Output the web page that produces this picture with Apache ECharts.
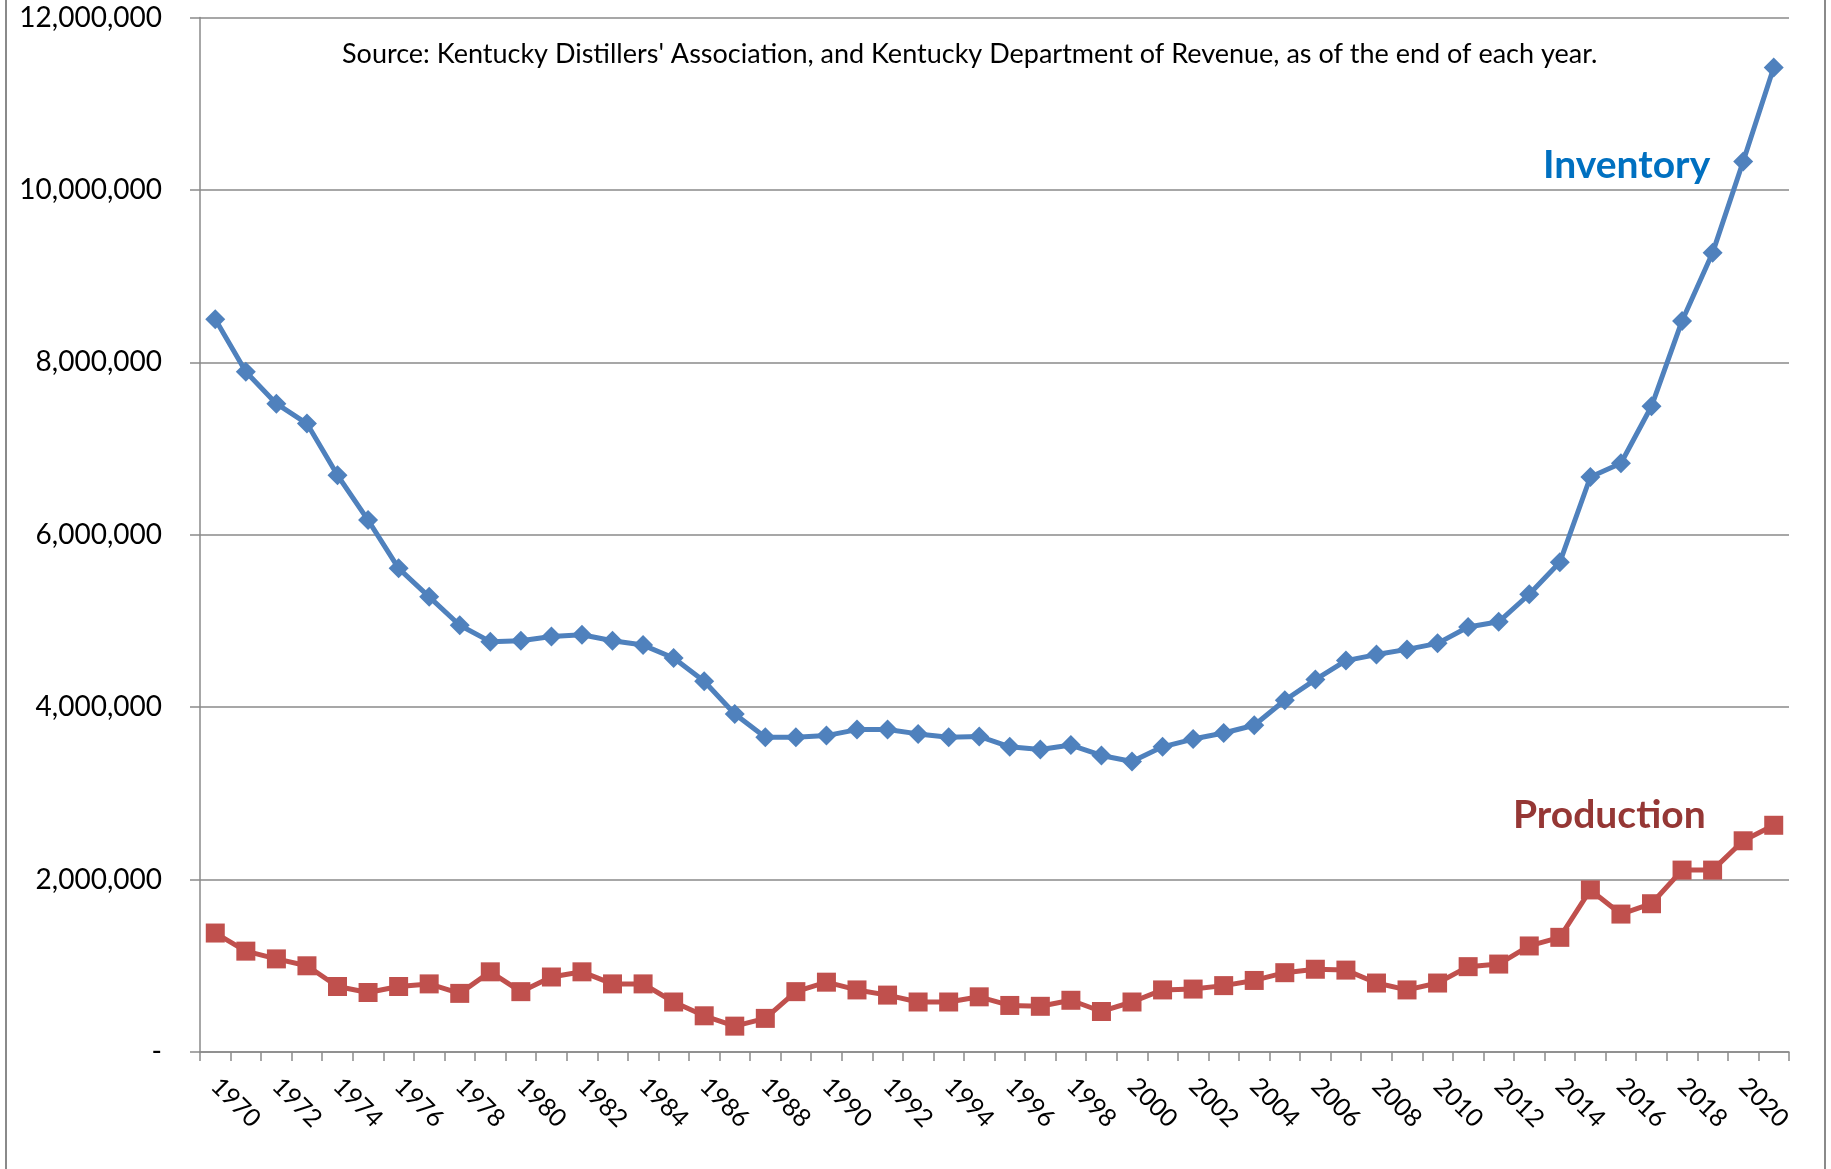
<!DOCTYPE html>
<html>
<head>
<meta charset="utf-8">
<script src="https://cdn.jsdelivr.net/npm/echarts@6/dist/echarts.min.js"></script>
<style>
  html, body { margin: 0; padding: 0; background: #fff; }
  #chart { width: 1831px; height: 1169px; }
</style>
</head>
<body>
<div id="chart"></div>
<script>
// years on the category axis
const years = [
  '1970', '1971', '1972', '1973', '1974', '1975', '1976', '1977', '1978', '1979',
  '1980', '1981', '1982', '1983', '1984', '1985', '1986', '1987', '1988', '1989',
  '1990', '1991', '1992', '1993', '1994', '1995', '1996', '1997', '1998', '1999',
  '2000', '2001', '2002', '2003', '2004', '2005', '2006', '2007', '2008', '2009',
  '2010', '2011', '2012', '2013', '2014', '2015', '2016', '2017', '2018', '2019',
  '2020', '2021'
];

// barrels in inventory, end of year
const inventory = [
  8500000, 7890000, 7520000, 7290000, 6690000, 6170000, 5610000, 5280000, 4950000, 4760000,
  4770000, 4820000, 4840000, 4770000, 4720000, 4570000, 4300000, 3920000, 3650000, 3650000,
  3670000, 3740000, 3740000, 3690000, 3650000, 3660000, 3540000, 3510000, 3560000, 3440000,
  3370000, 3540000, 3630000, 3700000, 3790000, 4080000, 4320000, 4540000, 4610000, 4670000,
  4740000, 4930000, 4990000, 5310000, 5680000, 6670000, 6830000, 7490000, 8480000, 9270000,
  10330000, 11420000
];

// barrels produced per year
const production = [
  1380000, 1170000, 1080000, 1000000, 760000, 690000, 760000, 790000, 680000, 930000,
  700000, 870000, 930000, 790000, 790000, 580000, 420000, 300000, 390000, 700000,
  810000, 720000, 660000, 580000, 580000, 640000, 540000, 530000, 600000, 470000,
  580000, 720000, 730000, 770000, 830000, 920000, 960000, 950000, 800000, 720000,
  800000, 990000, 1020000, 1230000, 1330000, 1880000, 1600000, 1720000, 2110000, 2110000,
  2450000, 2630000
];

const yTicks = [0, 2000000, 4000000, 6000000, 8000000, 10000000, 12000000];

const sourceText = "Source: Kentucky Distillers' Association, and Kentucky Department of Revenue, as of the end of each year.";

const font = 'Lato';
const gray = '#8a8a8a';

const myChart = echarts.init(document.getElementById('chart'));
myChart.setOption({
  animation: false,
  backgroundColor: '#fff',
  grid: {
    left: 200,
    right: 42,
    top: 17.5,
    bottom: 117
  },
  xAxis: {
    type: 'category',
    data: years,
    boundaryGap: true,
    axisLine: { lineStyle: { color: gray, width: 1.5 } },
    axisTick: { show: true, interval: 0, length: 9, lineStyle: { color: gray, width: 1.5 } },
    axisLabel: {
      interval: 1,
      rotate: -45,
      margin: 30,
      color: '#000',
      fontFamily: font,
      fontSize: 25
    }
  },
  yAxis: {
    type: 'value',
    min: yTicks[0],
    max: yTicks[yTicks.length - 1],
    interval: 2000000,
    axisLine: { show: true, lineStyle: { color: gray, width: 1.5 } },
    axisTick: { show: true, length: 10, lineStyle: { color: gray, width: 1.5 } },
    splitLine: { lineStyle: { color: gray, width: 1.5 } },
    axisLabel: {
      margin: 38,
      color: '#000',
      fontFamily: font,
      fontSize: 28,
      formatter: function (v) {
        return v === 0 ? '-' : v.toLocaleString('en-US');
      }
    }
  },
  series: [
    {
      name: 'Inventory',
      type: 'line',
      data: inventory,
      symbol: 'diamond',
      symbolSize: 20,
      lineStyle: { color: '#4F81BD', width: 5 },
      itemStyle: { color: '#4F81BD' }
    },
    {
      name: 'Production',
      type: 'line',
      data: production,
      symbol: 'rect',
      symbolSize: 19,
      lineStyle: { color: '#C0504D', width: 5 },
      itemStyle: { color: '#C0504D' }
    }
  ],
  graphic: [
    // chart frame sides
    { type: 'line', shape: { x1: 6, y1: 0, x2: 6, y2: 1169 }, style: { stroke: gray, lineWidth: 2 } },
    { type: 'line', shape: { x1: 1825, y1: 0, x2: 1825, y2: 1169 }, style: { stroke: gray, lineWidth: 2 } },
    {
      type: 'text', left: 342, top: 41,
      style: { text: sourceText, fill: '#000', font: '27px ' + font }
    },
    {
      type: 'text', left: 1543, top: 146,
      style: { text: 'Inventory', fill: '#0070C0', font: 'bold 39px ' + font }
    },
    {
      type: 'text', left: 1513, top: 796,
      style: { text: 'Production', fill: '#953735', font: 'bold 39px ' + font }
    }
  ]
});
</script>
</body>
</html>
